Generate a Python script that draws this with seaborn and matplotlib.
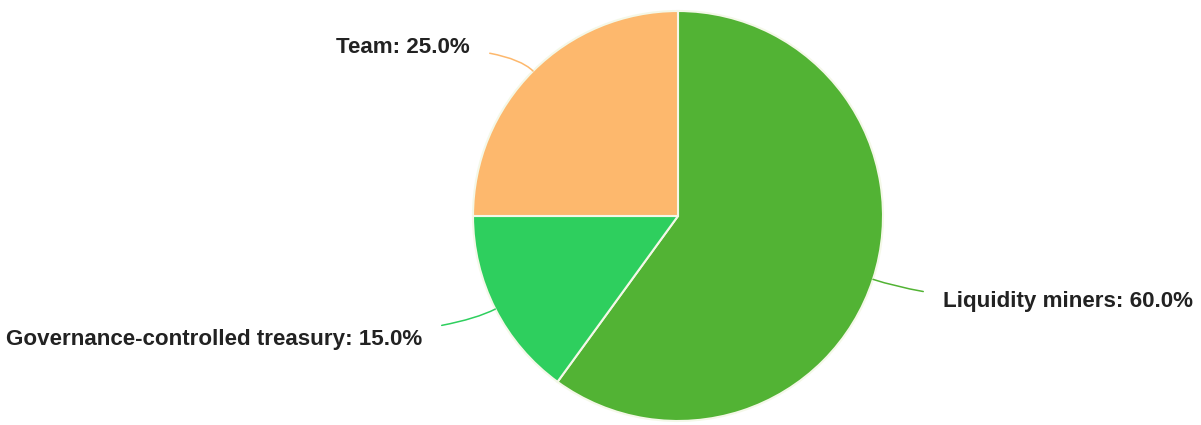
import numpy as np
import matplotlib

matplotlib.use("Agg")
import matplotlib.pyplot as plt
import seaborn as sns

categories = ["Liquidity miners", "Governance-controlled treasury", "Team"]
shares = [60.0, 15.0, 25.0]
colors = ["#52b334", "#2ecf5e", "#fdb86d"]

sns.set_theme(style="white")
plt.rcParams["font.family"] = ["Liberation Sans", "DejaVu Sans"]

W, H = 1201, 425
fig = plt.figure(figsize=(W / 100, H / 100), dpi=100)
ax = fig.add_axes([0, 0, 1, 1])

cx, cy, r = 678, H - 216, 205
wedges, _ = ax.pie(shares, colors=colors, startangle=90, counterclock=False,
                   center=(cx, cy), radius=r, frame=True,
                   wedgeprops=dict(edgecolor="#f4f8e8", linewidth=1.5))
ax.set_xlim(0, W)
ax.set_ylim(0, H)
ax.set_aspect("equal")
ax.axis("off")

# label anchor (px from top-left) and alignment
label_pos = {
    "Team": (470, 47, "right"),
    "Governance-controlled treasury": (422, 340, "right"),
    "Liquidity miners": (943, 302, "left"),
}
for w, name, val, col in zip(wedges, categories, shares, colors):
    mid = np.deg2rad((w.theta1 + w.theta2) / 2)
    xy = (cx + r * np.cos(mid), cy + r * np.sin(mid))
    tx, ty, ha = label_pos[name]
    ax.annotate(f"{name}: {val:.1f}%", xy=xy, xytext=(tx, H - ty),
                ha=ha, va="center", fontsize=16.1, fontweight="bold", color="#222222",
                arrowprops=dict(arrowstyle="-", color=col, lw=1.1, shrinkA=12, shrinkB=0,
                                connectionstyle=f"angle3,angleA=0,angleB={np.rad2deg(mid):.1f}"))

fig.savefig("out.png", dpi=100)
